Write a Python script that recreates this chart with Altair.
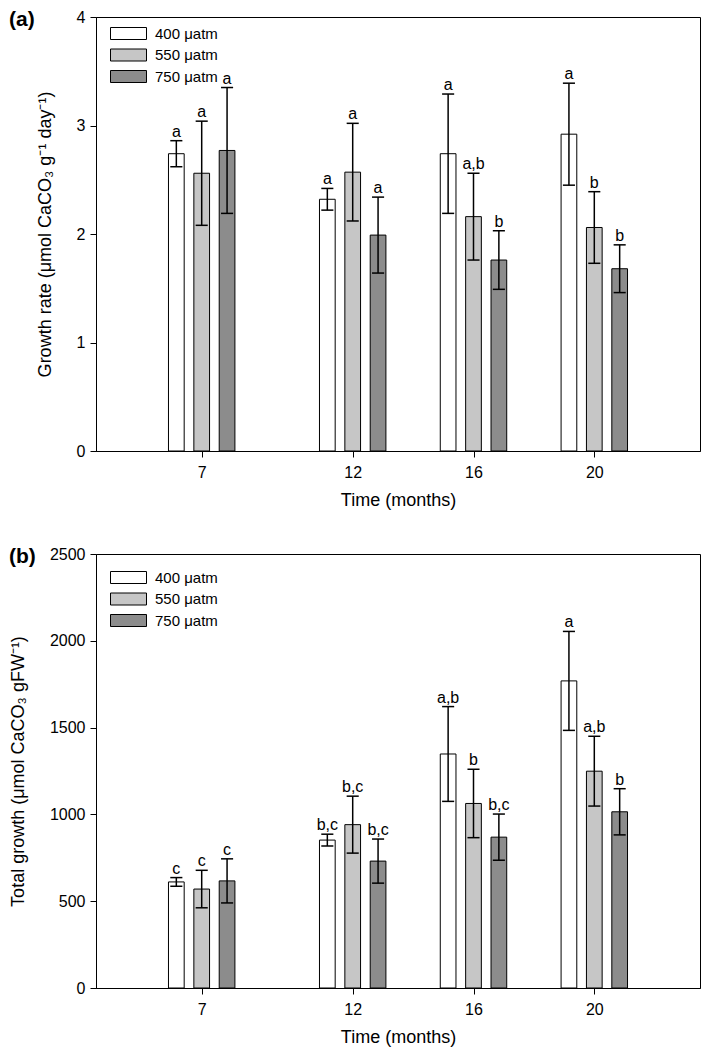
import altair as alt
import pandas as pd

months = [7, 12, 16, 20]
levels = ["400 μatm", "550 μatm", "750 μatm"]
fills = ["#ffffff", "#c6c6c6", "#8c8c8c"]

# Panel (a): growth rate
rate_400 = [2.74, 2.32, 2.74, 2.92]
rate_550 = [2.56, 2.57, 2.16, 2.06]
rate_750 = [2.77, 1.99, 1.76, 1.68]
rate_se_400 = [0.12, 0.10, 0.55, 0.47]
rate_se_550 = [0.48, 0.45, 0.40, 0.33]
rate_se_750 = [0.58, 0.35, 0.27, 0.22]
rate_let_400 = ["a", "a", "a", "a"]
rate_let_550 = ["a", "a", "a,b", "b"]
rate_let_750 = ["a", "a", "b", "b"]

# Panel (b): total growth
total_400 = [611, 852, 1348, 1769]
total_550 = [570, 941, 1063, 1249]
total_750 = [617, 731, 869, 1015]
total_se_400 = [25, 34, 273, 285]
total_se_550 = [108, 164, 197, 201]
total_se_750 = [127, 127, 133, 133]
total_let_400 = ["c", "b,c", "a,b", "a"]
total_let_550 = ["c", "b,c", "b", "a,b"]
total_let_750 = ["c", "b,c", "b,c", "b"]

rate_ticks = [0, 1, 2, 3, 4]
total_ticks = [0, 500, 1000, 1500, 2000, 2500]

FONT = "Liberation Sans"
W, H = 604, 434


def long_df(means, ses, lets):
    rows = []
    for lev, m, s, l in zip(levels, means, ses, lets):
        for t, mv, sv, lv in zip(months, m, s, l):
            rows.append({"month": t, "level": lev, "mean": mv, "se": sv, "letter": lv})
    return pd.DataFrame(rows)


def panel(df, ytitle, ymax, yticks, label, legend_y):
    base = alt.Chart(df).transform_calculate(
        off="datum.level === '400 μatm' ? -0.84 : (datum.level === '550 μatm' ? 0 : 0.84)"
    ).transform_calculate(
        xc="datum.month + datum.off",
        xl="datum.month + datum.off - 0.26",
        xr="datum.month + datum.off + 0.26",
        cl="datum.month + datum.off - 0.2",
        cr="datum.month + datum.off + 0.2",
        lo="datum.mean - datum.se",
        hi="datum.mean + datum.se",
    )
    xscale = alt.Scale(domain=[3.5, 23.5], nice=False, zero=False)
    yscale = alt.Scale(domain=[0, ymax], nice=False)
    bars = base.mark_bar(stroke="black", strokeWidth=1).encode(
        x=alt.X("xl:Q", scale=xscale,
                axis=alt.Axis(values=months, title="Time (months)", format="d",
                              labelPadding=7, titlePadding=11)),
        x2="xr:Q",
        y=alt.Y("mean:Q", scale=yscale,
                axis=alt.Axis(values=yticks, title=ytitle, format="d", titlePadding=22)),
        y2=alt.datum(0),
        fill=alt.Fill("level:N", scale=alt.Scale(domain=levels, range=fills),
                      legend=alt.Legend(title=None, orient="none", legendX=25, legendY=legend_y,
                                        symbolType="M-3,-1H3V1H-3Z", symbolSize=144,
                                        symbolStrokeColor="black", symbolStrokeWidth=1,
                                        symbolOpacity=1, labelFontSize=15, labelFont=FONT,
                                        labelColor="black", labelOffset=19, rowPadding=4.5,
                                        padding=0)),
    )
    whisk = base.mark_rule(color="black", strokeWidth=1.5).encode(
        x="xc:Q", y="lo:Q", y2="hi:Q")
    cap_hi = base.mark_rule(color="black", strokeWidth=1.5).encode(
        x="cl:Q", x2="cr:Q", y="hi:Q")
    cap_lo = base.mark_rule(color="black", strokeWidth=1.5).encode(
        x="cl:Q", x2="cr:Q", y="lo:Q")
    letters = base.mark_text(baseline="alphabetic", dy=-4, fontSize=16, font=FONT,
                             color="black").encode(x="xc:Q", y="hi:Q", text="letter:N")
    plabel = alt.Chart(pd.DataFrame({"t": [label]})).mark_text(
        align="left", baseline="top", fontSize=21, fontWeight="bold", font=FONT,
        color="black").encode(x=alt.value(-87), y=alt.value(-8), text="t:N")
    return alt.layer(bars, whisk, cap_hi, cap_lo, letters, plabel).properties(
        width=W, height=H)


df_a = long_df([rate_400, rate_550, rate_750],
               [rate_se_400, rate_se_550, rate_se_750],
               [rate_let_400, rate_let_550, rate_let_750])
df_b = long_df([total_400, total_550, total_750],
               [total_se_400, total_se_550, total_se_750],
               [total_let_400, total_let_550, total_let_750])

pa = panel(df_a, "Growth rate (μmol CaCO₃ g⁻¹ day⁻¹)", 4, rate_ticks, "(a)", 9)
pb = panel(df_b, "Total growth (μmol CaCO₃ gFW⁻¹)", 2500, total_ticks, "(b)", 16)

chart = alt.vconcat(pa, pb, spacing=35).resolve_scale(
    fill="independent", x="independent", y="independent"
).resolve_legend(fill="independent").properties(padding=0).configure(
    font=FONT
).configure_view(
    stroke="black", strokeWidth=1
).configure_axis(
    grid=False, domainColor="black", tickColor="black", labelColor="black",
    titleColor="black", labelFont=FONT, titleFont=FONT, labelFontSize=16,
    titleFontSize=18, titleFontWeight="normal", tickSize=6, labelPadding=5,
    domainWidth=1, tickWidth=1
)

chart.save("out.html", embed_options={"renderer": "svg", "actions": False})
